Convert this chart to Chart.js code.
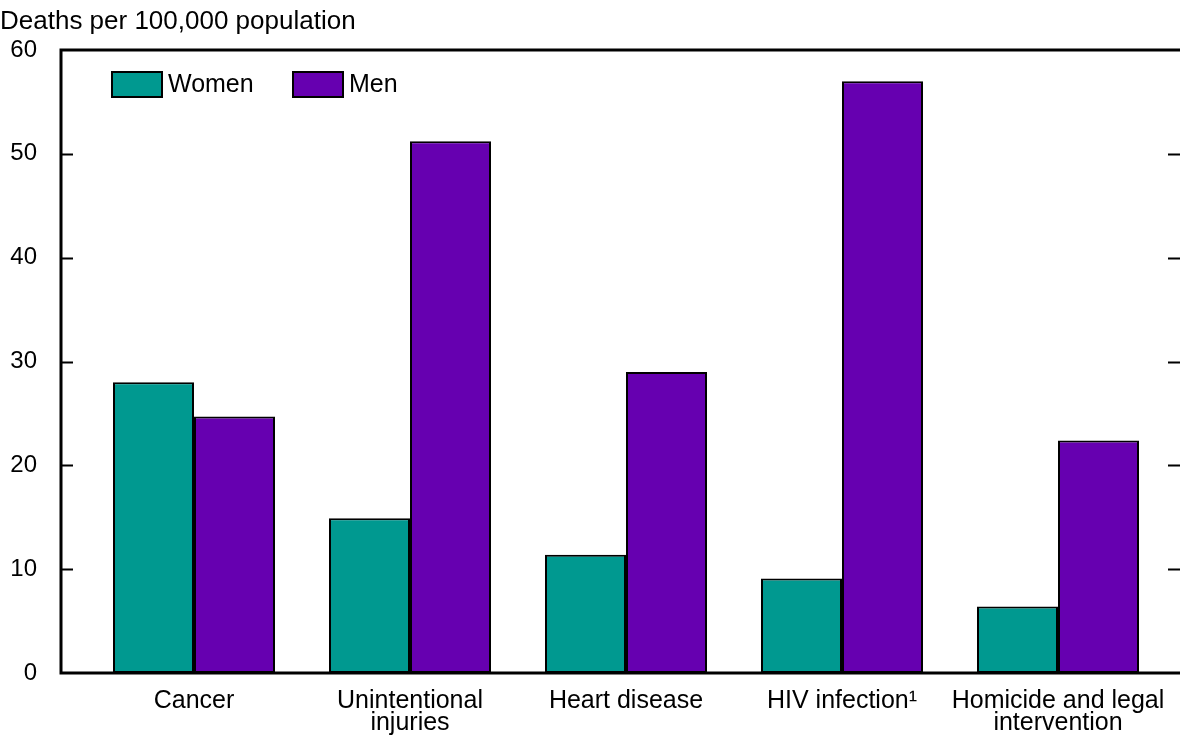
<!DOCTYPE html>
<html>
<head>
<meta charset="utf-8">
<script src="https://cdn.jsdelivr.net/npm/chart.js@4/dist/chart.umd.min.js"></script>
<style>
  body { margin: 0; background: #fff; }
  #wrap { width: 1180px; height: 737px; }
</style>
</head>
<body>
<div id="wrap"><canvas id="myChart"></canvas></div>
<script>
const categories = [
    'Cancer',
    ['Unintentional', 'injuries'],
    'Heart disease',
    'HIV infection\u00B9',
    ['Homicide and legal', 'intervention']
];
const women = [28.0, 14.9, 11.4, 9.1, 6.4];
const men = [24.7, 51.2, 29.0, 57.0, 22.4];
const yTicks = [0, 10, 20, 30, 40, 50, 60];

const FONT = '"Liberation Sans", Arial, sans-serif';

// frame: left, top and bottom lines plus inward ticks on both sides
const framePlugin = {
    id: 'frame',
    afterDraw: (chart) => {
        const ctx = chart.ctx;
        const area = chart.chartArea;
        const y = chart.scales.y;
        const left = 61;
        const right = 1180;
        ctx.save();
        ctx.strokeStyle = '#000';
        ctx.lineWidth = 3;
        ctx.beginPath();
        ctx.moveTo(right, area.top);
        ctx.lineTo(left, area.top);
        ctx.lineTo(left, area.bottom);
        ctx.lineTo(right, area.bottom);
        ctx.stroke();
        ctx.lineWidth = 2;
        yTicks.forEach((v) => {
            if (v == 0 || v == 60) return;
            const py = Math.round(y.getPixelForValue(v)) + 0.5;
            ctx.beginPath();
            ctx.moveTo(left, py);
            ctx.lineTo(left + 12, py);
            ctx.moveTo(right - 12, py);
            ctx.lineTo(right, py);
            ctx.stroke();
        });
        ctx.restore();
    }
};

// legend inside the plot, boxes side by side
const legendPlugin = {
    id: 'insideLegend',
    afterDraw: (chart) => {
        const ctx = chart.ctx;
        const area = chart.chartArea;
        const offsets = [26, 207];
        ctx.save();
        ctx.font = '25px ' + FONT;
        ctx.textBaseline = 'middle';
        chart.data.datasets.forEach((ds, i) => {
            const bx = area.left + offsets[i];
            const by = area.top + 22;
            ctx.fillStyle = ds.backgroundColor;
            ctx.fillRect(bx, by, 50, 25);
            ctx.strokeStyle = '#000';
            ctx.lineWidth = 2;
            ctx.strokeRect(bx, by, 50, 25);
            ctx.fillStyle = '#000';
            ctx.fillText(ds.label, bx + 56, by + 13);
        });
        ctx.restore();
    }
};

const ctx = document.getElementById('myChart').getContext('2d');
Chart.defaults.font.family = FONT;
Chart.defaults.color = '#000';

new Chart(ctx, {
    type: 'bar',
    data: {
        labels: categories,
        datasets: [{
            label: 'Women',
            data: women,
            backgroundColor: '#009990',
            borderColor: '#000',
            borderWidth: 2,
            borderSkipped: false,
            categoryPercentage: 0.75,
            barPercentage: 1.0
        }, {
            label: 'Men',
            data: men,
            backgroundColor: '#6600b0',
            borderColor: '#000',
            borderWidth: 2,
            borderSkipped: false,
            categoryPercentage: 0.75,
            barPercentage: 1.0
        }]
    },
    options: {
        responsive: true,
        maintainAspectRatio: false,
        animation: false,
        layout: {
            padding: { left: 0, right: 14, top: 0, bottom: 0 }
        },
        plugins: {
            title: {
                display: true,
                text: 'Deaths per 100,000 population',
                align: 'start',
                font: { size: 26, weight: 'normal', lineHeight: 1.2 },
                padding: { top: 6, bottom: 12.8 }
            },
            legend: { display: false },
            tooltip: { enabled: false }
        },
        scales: {
            x: {
                afterFit: (scale) => {
                    scale.height = 64;
                    scale.paddingLeft = 0;
                    scale.paddingRight = 0;
                },
                grid: { display: false },
                border: { display: false },
                ticks: {
                    font: { size: 25, lineHeight: 0.88 },
                    padding: 9,
                    maxRotation: 0,
                    autoSkip: false
                }
            },
            y: {
                min: 0,
                max: 60,
                afterFit: (scale) => {
                    scale.width = 86;
                    scale.paddingTop = 0;
                    scale.paddingBottom = 0;
                },
                afterBuildTicks: (scale) => {
                    scale.ticks = yTicks.map((v) => ({ value: v }));
                },
                grid: { display: false },
                border: { display: false },
                ticks: {
                    font: { size: 24 },
                    padding: 41
                }
            }
        }
    },
    plugins: [framePlugin, legendPlugin]
});
</script>
</body>
</html>
